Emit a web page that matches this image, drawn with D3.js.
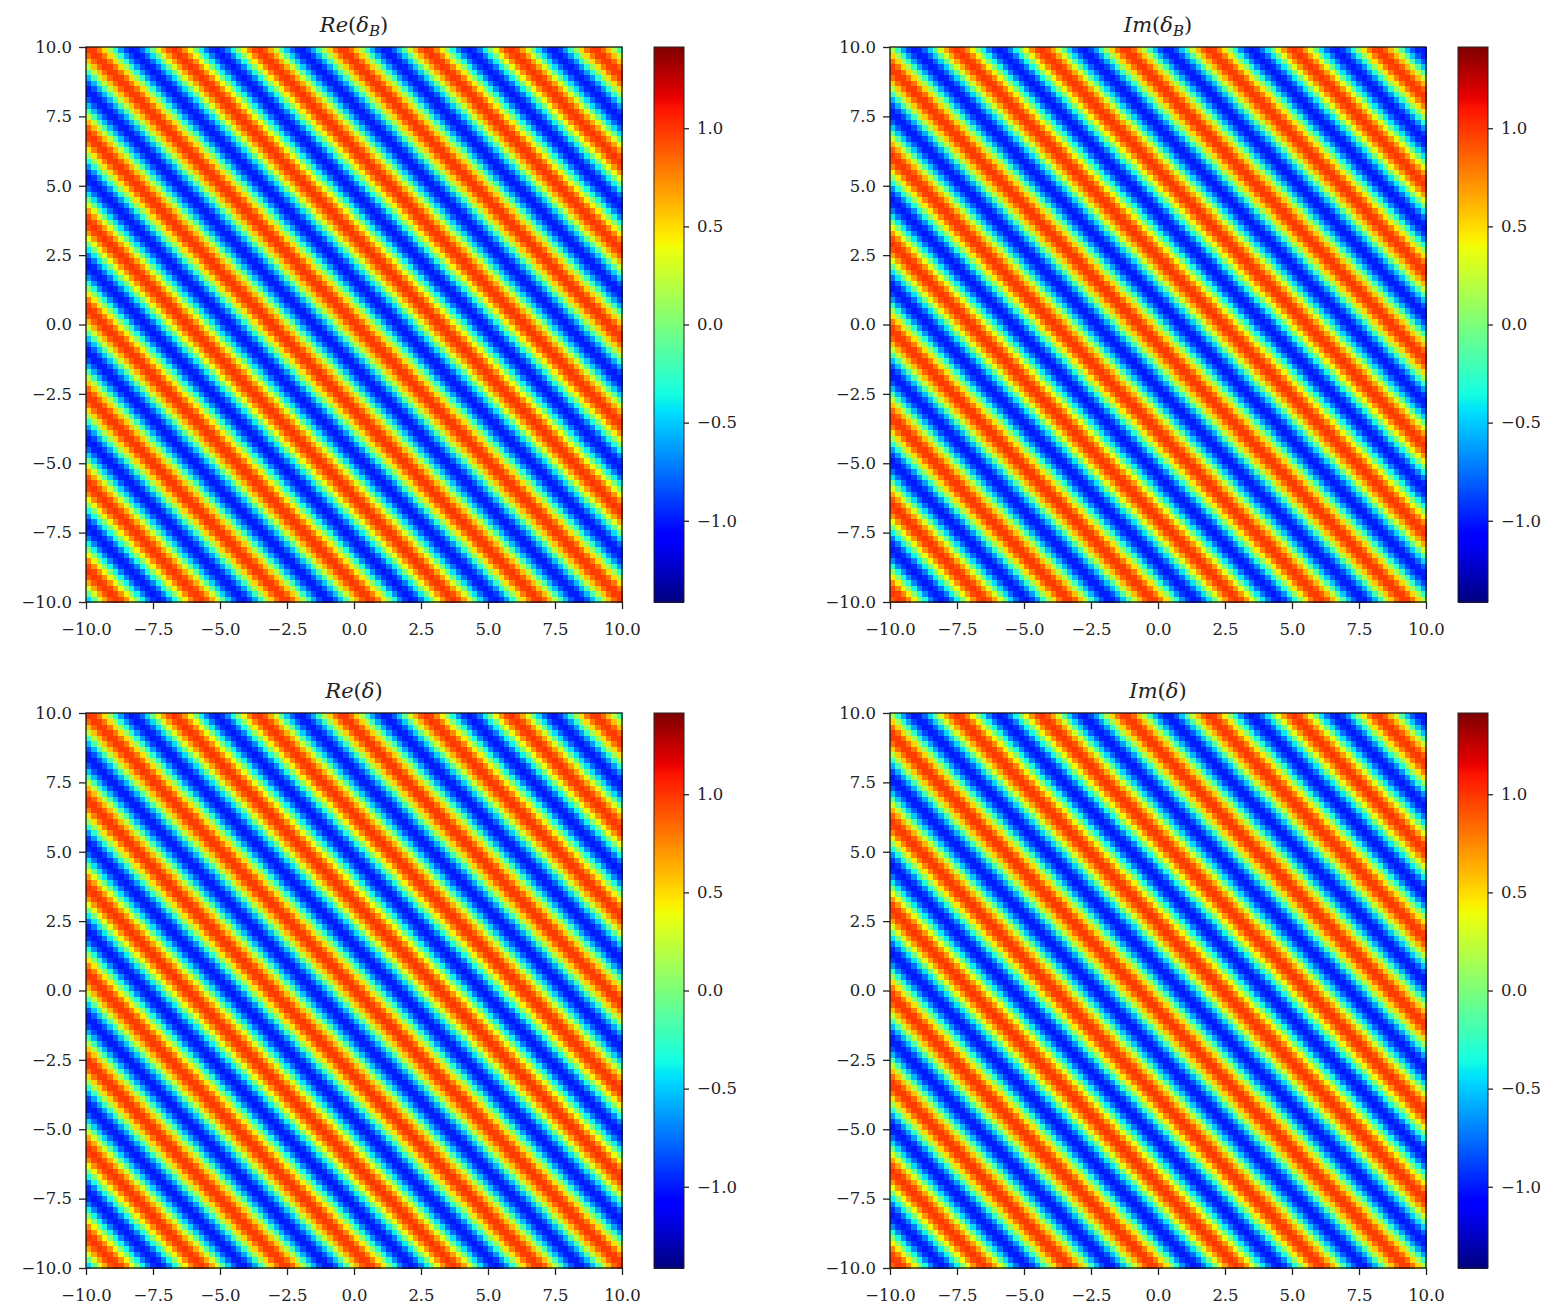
<!DOCTYPE html>
<html>
<head>
<meta charset="utf-8">
<script src="https://cdn.jsdelivr.net/npm/d3@7"></script>
<style>
  body { margin: 0; background: #fff; }
  svg text { font-family: "DejaVu Serif", "Liberation Serif", serif; fill: #222; }
</style>
</head>
<body>
<div class="visualisation"></div>
<script>
// Values
const xTicks = [-10, -7.5, -5, -2.5, 0, 2.5, 5, 7.5, 10];
const yTicks = [-10, -7.5, -5, -2.5, 0, 2.5, 5, 7.5, 10];
const cbarTicks = [-1.0, -0.5, 0.0, 0.5, 1.0];
const colorDomain = [-1.414, 1.414];
const extent = [-10, 10];
const gridN = 100;

// one entry per panel: title parts, which part is shown, wave vector and phase
const panelTitles = [
    [["Re", true], ["(", false], ["δ", true], ["B", true, "sub"], [")", false]],
    [["Im", true], ["(", false], ["δ", true], ["B", true, "sub"], [")", false]],
    [["Re", true], ["(", false], ["δ", true], [")", false]],
    [["Im", true], ["(", false], ["δ", true], [")", false]]
];
const panelPart = ["re", "im", "re", "im"];
const waveKx = [2.0, 2.0, 2.0, 2.0];
const waveKy = [2.0, 2.0, 2.0, 2.0];
const wavePhase = [0.15, 0.15, 0.15, 0.15];

// Size related variables
const width = 1556;
const height = 1305;
const colX = [86, 890];
const rowY = [47, 713];
const axW = 536;
const axH = 555;
const cbGap = 32;
const cbW = 30;
const tickFont = 16.5;

const svg = d3.select(".visualisation")
    .append("svg")
    .attr("width", width)
    .attr("height", height)
    .attr("viewBox", `0 0 ${width} ${height}`);

// matplotlib "jet"
const jetR = d3.scaleLinear([0, 0.35, 0.66, 0.89, 1], [0, 0, 1, 1, 0.5]).clamp(true);
const jetG = d3.scaleLinear([0, 0.125, 0.375, 0.64, 0.91, 1], [0, 0, 1, 1, 0, 0]).clamp(true);
const jetB = d3.scaleLinear([0, 0.11, 0.34, 0.65, 1], [0.5, 1, 1, 0, 0]).clamp(true);
const jet = t => d3.rgb(jetR(t) * 255, jetG(t) * 255, jetB(t) * 255).toString();
const colorScale = d3.scaleSequential(jet).domain(colorDomain);

const fmt = d3.format(".1f");
const step = (extent[1] - extent[0]) / gridN;
const centers = d3.range(gridN).map(i => extent[0] + (i + 0.5) * step);

function styleAxis(a) {
    a.select(".domain").remove();
    a.selectAll("line").attr("stroke", "#222").attr("stroke-width", 1.3);
    a.selectAll("text").attr("font-size", tickFont).attr("fill", "#222")
        .style("font-family", '"DejaVu Serif", serif');
}

panelTitles.forEach((title, p) => {
    const x0 = colX[p % 2];
    const y0 = rowY[Math.floor(p / 2)];
    const x = d3.scaleLinear(extent, [x0, x0 + axW]);
    const y = d3.scaleLinear(extent, [y0 + axH, y0]);

    // phase measured from the top-left corner
    const cells = [];
    centers.forEach(cy => centers.forEach(cx => {
        const psi = wavePhase[p] - waveKx[p] * (cx - extent[0]) + waveKy[p] * (extent[1] - cy);
        cells.push({ cx, cy, v: panelPart[p] === "re" ? Math.cos(psi) : Math.sin(psi) });
    }));

    const g = svg.append("g").attr("class", "panel");

    g.append("g")
        .attr("shape-rendering", "crispEdges")
        .selectAll("rect")
        .data(cells)
        .join("rect")
        .attr("x", d => x(d.cx - step / 2))
        .attr("y", d => y(d.cy + step / 2))
        .attr("width", x(step) - x(0) + 0.5)
        .attr("height", y(0) - y(step) + 0.5)
        .attr("fill", d => colorScale(d.v));

    g.append("rect")
        .attr("x", x0).attr("y", y0)
        .attr("width", axW).attr("height", axH)
        .attr("fill", "none")
        .attr("stroke", "#111")
        .attr("stroke-width", 1.3);

    styleAxis(g.append("g")
        .attr("transform", `translate(0,${y0 + axH})`)
        .call(d3.axisBottom(x).tickValues(xTicks).tickFormat(fmt).tickSize(7).tickPadding(14)));
    styleAxis(g.append("g")
        .attr("transform", `translate(${x0},0)`)
        .call(d3.axisLeft(y).tickValues(yTicks).tickFormat(fmt).tickSize(7).tickPadding(7)));

    // title
    const t = g.append("text")
        .attr("x", x0 + axW / 2)
        .attr("y", y0 - 15)
        .attr("text-anchor", "middle")
        .attr("font-size", 21);
    title.forEach(([s, it, sub]) => {
        const ts = t.append("tspan").text(s)
            .attr("font-style", it ? "italic" : "normal");
        if (sub) ts.attr("font-size", 15).attr("baseline-shift", "-4");
    });

    // colorbar
    const cx0 = x0 + axW + cbGap;
    const cbY = d3.scaleLinear(colorDomain, [y0 + axH, y0]);
    const cbStep = (colorDomain[1] - colorDomain[0]) / 256;
    const cbSteps = d3.range(256).map(i => colorDomain[0] + (i + 0.5) * cbStep);
    g.append("g")
        .attr("shape-rendering", "crispEdges")
        .selectAll("rect")
        .data(cbSteps)
        .join("rect")
        .attr("x", cx0)
        .attr("y", d => cbY(d + cbStep / 2))
        .attr("width", cbW)
        .attr("height", cbY(0) - cbY(cbStep) + 0.6)
        .attr("fill", d => colorScale(d));
    g.append("rect")
        .attr("x", cx0).attr("y", y0)
        .attr("width", cbW).attr("height", axH)
        .attr("fill", "none")
        .attr("stroke", "#222")
        .attr("stroke-width", 1);
    styleAxis(g.append("g")
        .attr("transform", `translate(${cx0 + cbW},0)`)
        .call(d3.axisRight(cbY).tickValues(cbarTicks).tickFormat(fmt).tickSize(5).tickPadding(8)));
});
</script>
</body>
</html>
